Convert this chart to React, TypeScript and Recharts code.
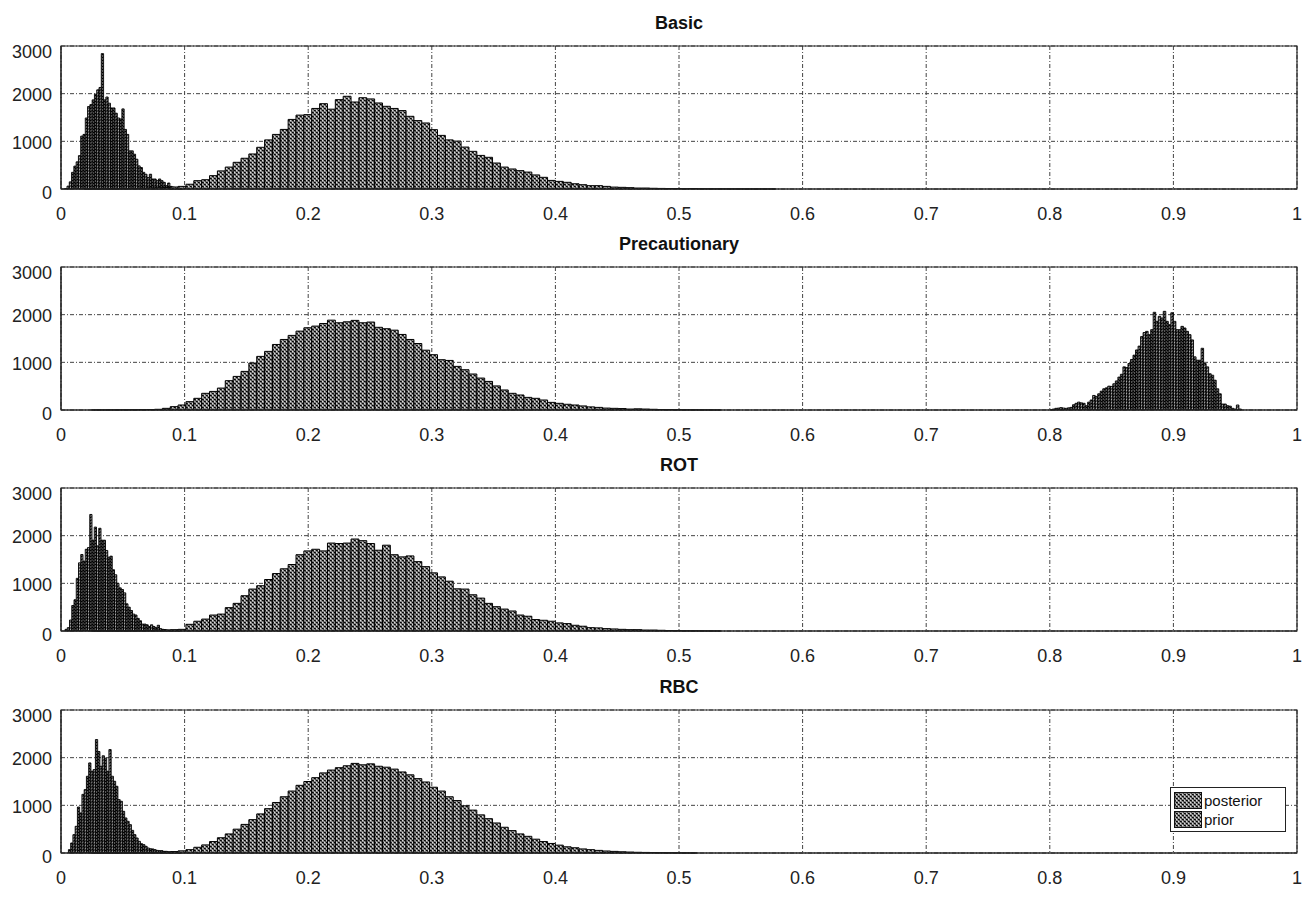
import React from "react";
import { ComposedChart, XAxis, YAxis, CartesianGrid, ReferenceArea } from "recharts";

const titles = ["Basic", "Precautionary", "ROT", "RBC"];
const xTicks = [0, 0.1, 0.2, 0.3, 0.4, 0.5, 0.6, 0.7, 0.8, 0.9, 1];
const yTicks = [0, 1000, 2000, 3000];

// prior histograms: common bin layout
const priorStart = 0.0057;
const priorWidth = 0.00636;

const basicPrior = [
  0, 0, 1, 1, 2, 4, 6, 8, 11, 15, 20, 26, 33, 42, 55,
  100, 175, 195, 280, 380, 460, 560, 645, 735, 875, 1030, 1145, 1250, 1460, 1550,
  1560, 1690, 1790, 1675, 1875, 1945, 1825, 1915, 1890, 1805, 1735, 1690, 1645, 1525, 1435,
  1385, 1245, 1125, 1030, 1005, 880, 790, 705, 665, 545, 460, 420, 385, 355, 295,
  245, 180, 160, 140, 110, 90, 70, 70, 55, 40, 35, 28, 20, 20, 15,
  12, 10, 10, 6, 10, 5, 4, 3, 3, 2, 2, 1, 1, 1, 1,
];
const precPrior = [
  0, 0, 0, 1, 1, 2, 3, 4, 5, 7, 9, 15,
  35, 70, 105, 175, 245, 350, 390, 460, 615, 705, 810, 985, 1125, 1230, 1375, 1480, 1565, 1655,
  1725, 1760, 1815, 1885, 1830, 1850, 1880, 1830, 1845, 1735,
  1705, 1675, 1585, 1480, 1395, 1255, 1160, 1055, 1040, 915, 845, 755, 670, 600, 505, 420,
  350, 315, 265, 245, 210, 160, 140, 120, 105, 85, 65, 55, 40, 35, 30, 20, 25, 20, 15,
  10, 8, 5, 4, 3, 2, 2, 1,
];
const rotPrior = [
  0, 0, 0, 1, 1, 2, 3, 4, 6, 8, 12, 18, 22, 28, 35,
  140, 205, 250, 335, 355, 490, 580, 740, 880, 950,
  1080, 1205, 1305, 1395, 1600, 1680, 1715, 1680, 1845, 1835,
  1845, 1930, 1895, 1835, 1695, 1800, 1600, 1555, 1575, 1455,
  1350, 1220, 1135, 1045, 885, 880, 760, 690, 580, 510,
  460, 420, 335, 310, 240, 225, 205, 170, 155, 120,
  100, 70, 65, 50, 43, 35, 28, 28, 20, 20,
  15, 10, 8, 5, 4, 3, 2, 1,
];
const rbcPrior = [
  0, 0, 0, 1, 1, 2, 3, 5, 7, 9, 12, 16, 22, 30, 45,
  70, 120, 170, 240, 320, 400, 500, 600, 700, 820, 930, 1060, 1180, 1300, 1420,
  1500, 1580, 1680, 1740, 1790, 1830, 1880, 1850, 1870, 1820, 1800, 1760, 1700, 1640, 1560,
  1490, 1380, 1300, 1180, 1100, 990, 900, 800, 720, 630, 540, 470, 400, 350, 290,
  240, 200, 165, 130, 110, 85, 70, 55, 42, 34, 26, 20, 15, 12, 9, 6, 4, 3, 2, 1,
];

// posterior histograms: each has its own bins
const postStart = [0.003, 0.8, 0.00325, 0.006];
const postWidth = [0.00185, 0.00204, 0.00182, 0.00182];

const basicPost = [
  10, 60, 150, 350, 480, 570, 700, 1110, 1145, 1490, 1730, 1770, 1870, 1990, 2080, 2130,
  2840, 1870, 1930, 1800, 1700, 1700, 1590, 1490, 1470, 1680, 1250, 1145, 800, 800,
  730, 625, 485, 450, 350, 310, 240, 310, 210, 210, 175, 210, 175, 140, 70, 125, 55,
  40, 30, 20, 25, 10,
];
const precPost = [
  5, 20, 35, 40, 50, 40, 35, 45, 55, 110, 140, 165, 150, 140, 90, 165, 210,
  305, 285, 340, 395, 445, 465, 500, 495, 550, 610, 690, 750, 905, 890, 975, 1060, 1150, 1260, 1340, 1540,
  1625, 1650, 1580, 1685, 2050, 1860, 1965, 1930, 2070, 1860, 1790, 2040, 1860, 1685, 1685, 1755, 1720,
  1650, 1580, 1470, 1115, 1045, 1045, 1295, 975, 905, 760, 730, 625, 445, 340, 125, 125, 90, 80, 35, 20, 105, 20,
];
const rotPost = [
  35, 70, 230, 535, 655, 1105, 1430, 1605, 1465, 1715, 1750, 2445, 1905, 2180, 1785, 2155,
  1905, 1905, 1690, 1550, 1570, 1285, 1180, 1000, 905, 870, 800, 570, 500, 430, 355, 335,
  265, 215, 145, 145, 130, 95, 130, 95, 70, 120, 50, 35, 30, 20, 15, 10, 10, 8, 5,
];
const rbcPost = [
  70, 210, 385, 560, 965, 840, 1230, 1330, 1610, 1890, 1715, 1750, 2380, 2130, 1820, 2040,
  1990, 1715, 2170, 1610, 1505, 1400, 1120, 1085, 875, 735, 665, 595, 475, 385, 315, 245,
  195, 175, 140, 105, 90, 85, 70, 55, 50, 50, 35, 35, 25, 20, 15, 10, 8, 5,
];

const priors = [basicPrior, precPrior, rotPrior, rbcPrior];
const posts = [basicPost, precPost, rotPost, rbcPost];

const plotTops = [46, 267, 488, 710];
const FONT = "'Liberation Sans', Arial, sans-serif";
const W = 1308;
const M_TOP = 10;
const PLOT_H = 143;
const X_H = 40;
const H = M_TOP + PLOT_H + X_H;

function toBins(counts: number[], start: number, width: number) {
  return counts
    .map((c, i) => ({ x1: start + i * width, x2: start + (i + 1) * width, c }))
    .filter((b) => b.c > 0);
}

const XTick = (props: any) => {
  const { x, y, payload } = props;
  return (
    <text x={x} y={y + 31} textAnchor="middle" fontSize={18} fontFamily={FONT} fill="#222">
      {String(payload.value)}
    </text>
  );
};

const YTick = (props: any) => {
  const { x, y, payload } = props;
  const dy = payload.value === 3000 ? 5 : payload.value === 0 ? 3 : 1;
  return (
    <text x={x - 9} y={y + 6.5 + dy} textAnchor="end" fontSize={18} fontFamily={FONT} fill="#222">
      {String(payload.value)}
    </text>
  );
};

function Panel({ idx }: { idx: number }) {
  const priorBins = toBins(priors[idx], priorStart, priorWidth);
  const postBins = toBins(posts[idx], postStart[idx], postWidth[idx]);
  return (
    <div style={{ position: "absolute", left: 0, top: plotTops[idx] - M_TOP, width: W, height: H }}>
      <ComposedChart
        width={W}
        height={H}
        data={xTicks.map((x) => ({ x }))}
        margin={{ top: M_TOP, right: 11, bottom: 0, left: 0 }}
      >
        <CartesianGrid stroke="#444" strokeDasharray="4 2 1 2" />
        <XAxis
          type="number"
          dataKey="x"
          domain={[0, 1]}
          ticks={xTicks}
          interval={0}
          allowDataOverflow
          height={X_H}
          tickLine={false}
          tickSize={0}
          tickMargin={0}
          axisLine={{ stroke: "#222" }}
          tick={<XTick />}
        />
        <YAxis
          type="number"
          domain={[0, 3000]}
          ticks={yTicks}
          interval={0}
          allowDataOverflow
          width={61}
          tickLine={false}
          tickSize={0}
          tickMargin={0}
          axisLine={{ stroke: "#222" }}
          tick={<YTick />}
        />
        {postBins.map((b, i) => (
          <ReferenceArea
            key={"q" + i}
            x1={b.x1}
            x2={b.x2}
            y1={0}
            y2={b.c}
            fill="url(#postPat)"
            fillOpacity={1}
            stroke="#000"
            strokeWidth={0.9}
            ifOverflow="visible"
          />
        ))}
        {priorBins.map((b, i) => (
          <ReferenceArea
            key={"p" + i}
            x1={b.x1}
            x2={b.x2}
            y1={0}
            y2={b.c}
            fill="url(#priorPat)"
            fillOpacity={1}
            stroke="#000"
            strokeWidth={1}
            ifOverflow="visible"
          />
        ))}
        <ReferenceArea x1={0} x2={1} y1={0} y2={3000} fill="none" fillOpacity={0} stroke="#222" strokeWidth={1.2} ifOverflow="visible" />
      </ComposedChart>
    </div>
  );
}

function Swatch() {
  return (
    <svg width={28} height={17} style={{ display: "block" }}>
      <rect x={0.5} y={0.5} width={27} height={16} fill="url(#priorPat)" stroke="#111" />
    </svg>
  );
}

export default function App() {
  return (
    <div style={{ position: "absolute", left: 0, top: 0, width: W, height: 899, background: "#fff" }}>
      <svg width={0} height={0} style={{ position: "absolute" }}>
        <defs>
          <pattern id="priorPat" width={4} height={4} patternUnits="userSpaceOnUse">
            <rect width={4} height={4} fill="#8a8a8a" />
            <rect x={0} y={0} width={1} height={1} fill="#000" />
            <rect x={2} y={2} width={1} height={1} fill="#000" />
            <rect x={1} y={0} width={1} height={1} fill="#222" />
            <rect x={3} y={2} width={1} height={1} fill="#222" />
            <rect x={2} y={0} width={1} height={1} fill="#ddd" />
            <rect x={0} y={2} width={1} height={1} fill="#ddd" />
            <rect x={1} y={1} width={1} height={1} fill="#444" />
            <rect x={3} y={3} width={1} height={1} fill="#444" />
          </pattern>
          <pattern id="postPat" width={3} height={3} patternUnits="userSpaceOnUse">
            <rect width={3} height={3} fill="#555" />
            <rect x={0} y={0} width={1} height={1} fill="#000" />
            <rect x={2} y={2} width={1} height={1} fill="#000" />
            <rect x={1} y={1} width={1} height={1} fill="#aaa" />
          </pattern>
        </defs>
      </svg>
      {titles.map((t, i) => (
        <div
          key={t}
          style={{
            position: "absolute",
            left: 61,
            width: 1236,
            top: plotTops[i] - 34,
            textAlign: "center",
            fontFamily: FONT,
            fontWeight: "bold",
            fontSize: 18,
            lineHeight: "22px",
            color: "#111",
          }}
        >
          {t}
        </div>
      ))}
      {titles.map((t, i) => (
        <Panel key={"panel" + t} idx={i} />
      ))}
      <div
        style={{
          position: "absolute",
          left: 1170,
          top: 787,
          width: 116,
          height: 45,
          border: "1px solid #222",
          background: "#fff",
          fontFamily: FONT,
          fontSize: 15,
          color: "#111",
          boxSizing: "border-box",
          padding: "3px 0 0 3px",
        }}
      >
        <div style={{ display: "flex", alignItems: "center", height: 19 }}>
          <Swatch />
          <span style={{ marginLeft: 2 }}>posterior</span>
        </div>
        <div style={{ display: "flex", alignItems: "center", height: 19 }}>
          <Swatch />
          <span style={{ marginLeft: 2 }}>prior</span>
        </div>
      </div>
    </div>
  );
}
